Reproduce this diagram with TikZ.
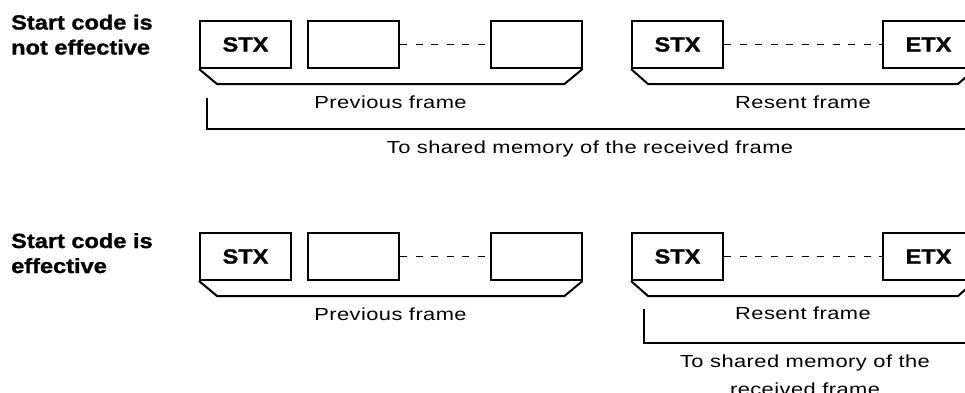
\documentclass[tikz,border=0pt]{standalone}
\usepackage{fontspec}
\setmainfont{Liberation Sans}
% wide, slightly tracked sans for captions; heavy wide sans for labels
\newfontfamily\regfont[FakeStretch=1.25, LetterSpace=2.5]{Liberation Sans}
\newfontfamily\heavyfont[FakeStretch=1.15, FakeBold=1.2]{Liberation Sans Bold}
\begin{document}
\begin{tikzpicture}[x=1pt,y=-1pt,
  fbox/.style={draw, line width=2pt, minimum width=91pt, minimum height=47pt,
    inner sep=0pt, font=\heavyfont\fontsize{20.5}{25}\selectfont},
  dashline/.style={line width=1.4pt, dash pattern=on 7pt off 8.5pt},
  brk/.style={line width=2pt, line join=miter},
  memline/.style={line width=2pt},
  caption/.style={anchor=base, inner sep=0pt, font=\regfont\fontsize{17.5}{28}\selectfont},
  sidelabel/.style={anchor=base west, inner sep=0pt, align=left,
    font=\heavyfont\fontsize{20.5}{25}\selectfont}]
\clip (0,0) rectangle (965,392);

% ---------- upper row ----------
\node[sidelabel] (la) at (11,54.5) {Start code is\\not effective};
\node[fbox] (a1) at (245.5,44.5) {STX};
\node[fbox] (a2) at (353.5,44.5) {};
\node[fbox] (a3) at (536,44.5) {};
\node[fbox] (a4) at (677.5,44.5) {STX};
\node[fbox] (a5) at (928.5,44.5) {ETX};
\draw[dashline] (a2.east) -- (a3.west);
\draw[dashline] (a4.east) -- (a5.west);
\draw[brk] (a1.south west) -- ([shift={(18,15)}]a1.south west)
  -- ([shift={(-18,15)}]a3.south east) -- (a3.south east);
\draw[brk] (a4.south west) -- ([shift={(17,15)}]a4.south west)
  -- ([shift={(-17,15)}]a5.south east) -- (a5.south east);
\node[caption] (pa) at (390.5,108) {Previous frame};
\node[caption] (ra) at (803,108) {Resent frame};
\coordinate (ma) at (207,98);
\coordinate (mae) at (980,129);
\draw[memline] (ma) |- (mae);
\node[caption] (ta) at (590,153) {To shared memory of the received frame};

% ---------- lower row ----------
\node[sidelabel] (lb) at (11,273) {Start code is\\effective};
\node[fbox] (b1) at (245.5,256.5) {STX};
\node[fbox] (b2) at (353.5,256.5) {};
\node[fbox] (b3) at (536,256.5) {};
\node[fbox] (b4) at (677.5,256.5) {STX};
\node[fbox] (b5) at (928.5,256.5) {ETX};
\draw[dashline] (b2.east) -- (b3.west);
\draw[dashline] (b4.east) -- (b5.west);
\draw[brk] (b1.south west) -- ([shift={(18,15)}]b1.south west)
  -- ([shift={(-18,15)}]b3.south east) -- (b3.south east);
\draw[brk] (b4.south west) -- ([shift={(17,15)}]b4.south west)
  -- ([shift={(-17,15)}]b5.south east) -- (b5.south east);
\node[caption] (pb) at (390.5,320) {Previous frame};
\node[caption] (rb) at (803,319) {Resent frame};
\coordinate (mb) at (644,309);
\coordinate (mbe) at (980,343);
\draw[memline] (mb) |- (mbe);
\node[caption, align=center] (tb) at (805,395)
  {To shared memory of the\\received frame};
\end{tikzpicture}
\end{document}
